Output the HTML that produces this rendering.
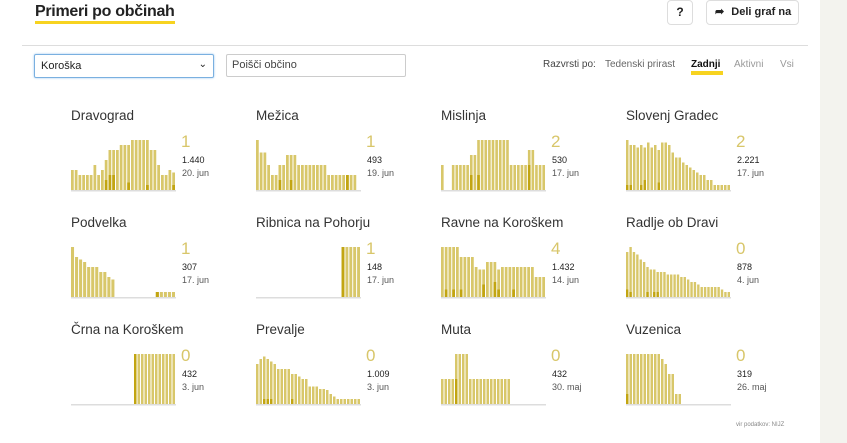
<!DOCTYPE html>
<html><head><meta charset="utf-8"><style>
body{margin:0;width:847px;height:443px;background:#f3f3ee;font-family:"Liberation Sans",sans-serif;overflow:hidden;position:relative}
.panel{position:absolute;left:0;top:0;width:820px;height:443px;background:#fff}
.t{position:absolute;white-space:nowrap}
.btn{position:absolute;border:1px solid #ddd;border-radius:4px;background:#fff;font-size:12px;font-weight:bold;color:#222}
.name{font-size:13.5px;color:#333;position:absolute;white-space:nowrap}
.big{font-size:17px;color:#d8c66a;position:absolute}
.n1{font-size:9px;color:#222;position:absolute}
.n2{font-size:9px;color:#555;position:absolute}
</style></head><body>
<div class="panel"></div>
<div class="t" style="left:35px;top:3px;font-size:16px;font-weight:bold;color:#222;letter-spacing:-0.3px">Primeri po občinah</div>
<div style="position:absolute;left:35px;top:21px;width:140px;height:3px;background:#f7d320"></div>
<div class="btn" style="left:667px;top:0;width:24px;height:23px;text-align:center;line-height:23px">?</div>
<div class="btn" style="left:706px;top:0;width:91px;height:23px;line-height:23px;font-size:11px"><span style="margin-left:8px">➦</span> <span style="margin-left:4px">Deli graf na</span></div>
<div style="position:absolute;left:22px;top:45px;width:786px;height:1px;background:#ddd"></div>
<div style="position:absolute;left:34px;top:54px;width:178px;height:22px;border:1px solid #7ab0e0;box-shadow:0 0 2px #9cc8f0;border-radius:2px;font-size:11px;line-height:22px;color:#222"><span style="margin-left:6px">Koroška</span><span style="position:absolute;right:6px;top:-1px;font-size:10px">&#8964;</span></div>
<div style="position:absolute;left:226px;top:54px;width:178px;height:21px;border:1px solid #ccc;border-radius:2px;font-size:11px;line-height:21px;color:#444"><span style="margin-left:5px">Poišči občino</span></div>
<div class="t" style="left:543px;top:59px;font-size:10px;color:#444">Razvrsti po:</div>
<div class="t" style="left:605px;top:59px;font-size:10px;color:#666">Tedenski prirast</div>
<div class="t" style="left:691px;top:59px;font-size:10px;color:#111;font-weight:bold">Zadnji</div>
<div style="position:absolute;left:691px;top:71px;width:32px;height:4px;background:#f7d320"></div>
<div class="t" style="left:734px;top:59px;font-size:10px;color:#999">Aktivni</div>
<div class="t" style="left:780px;top:59px;font-size:10px;color:#999">Vsi</div>
<div class="t" style="left:736px;top:422px;font-size:6px;color:#888">vir podatkov: NIJZ</div>
<div id="c"></div>
<script>
const D=[
["Dravograd","1","1.440","20. jun",[.4,.4,.3,.3,.3,.3,.5,.3,.4,.6,.8,.8,.8,.9,.9,.9,1,1,1,1,1,.8,.8,.5,.3,.3,.4,.35],{9:.2,10:.3,11:.3,15:.15,20:.1,27:.1}],
["Mežica","1","493","19. jun",[1,.75,.75,.5,.3,.3,.5,.5,.7,.7,.7,.5,.5,.5,.5,.5,.5,.5,.5,.3,.3,.3,.3,.3,.3,.3,.3,0],{6:.2,9:.2,24:.3}],
["Mislinja","2","530","17. jun",[.5,0,0,.5,.5,.5,.5,.5,.7,.7,1,1,1,1,1,1,1,1,1,.5,.5,.5,.5,.5,.8,.8,.5,.5,.5],{8:.3,10:.3,24:.5}],
["Slovenj Gradec","2","2.221","17. jun",[1,.9,.9,.85,.9,.85,.95,.85,.9,.8,.95,.95,.9,.75,.65,.65,.55,.5,.45,.4,.35,.3,.3,.2,.2,.1,.1,.1,.1,.1],{0:.1,1:.1,4:.1,5:.2,9:.15}],
["Podvelka","1","307","17. jun",[1,.8,.75,.7,.6,.6,.6,.5,.5,.4,.35,0,0,0,0,0,0,0,0,0,0,.1,.1,.1,.1,.1],{21:.1}],
["Ribnica na Pohorju","1","148","17. jun",[0,0,0,0,0,0,0,0,0,0,0,0,0,0,0,0,0,0,0,0,0,0,1,1,1,1,1],{22:1}],
["Ravne na Koroškem","4","1.432","14. jun",[1,1,1,1,1,.8,.8,.8,.8,.6,.55,.55,.7,.7,.7,.55,.6,.6,.6,.6,.6,.6,.6,.6,.6,.4,.4,.4],{1:.15,3:.15,5:.15,11:.25,14:.3,15:.15,19:.15}],
["Radlje ob Dravi","0","878","4. jun",[.9,1,.9,.85,.75,.7,.6,.55,.55,.5,.5,.5,.45,.45,.45,.45,.4,.4,.35,.3,.3,.25,.2,.2,.2,.2,.2,.2,.15,.1,.1],{0:.15,1:.1,6:.1,8:.1,9:.1}],
["Črna na Koroškem","0","432","3. jun",[0,0,0,0,0,0,0,0,0,0,0,0,0,0,0,0,0,0,1,1,1,1,1,1,1,1,1,1,1,1],{18:1}],
["Prevalje","0","1.009","3. jun",[.8,.9,.95,.9,.85,.8,.7,.7,.7,.7,.6,.6,.55,.5,.5,.35,.35,.35,.3,.3,.28,.2,.15,.1,.1,.1,.1,.1,.1,.1],{2:.1,3:.1,4:.1,10:.1}],
["Muta","0","432","30. maj",[.5,.5,.5,.5,1,1,1,1,.5,.5,.5,.5,.5,.5,.5,.5,.5,.5,.5,.5,0,0,0,0,0,0,0,0,0,0],{4:.5}],
["Vuzenica","0","319","26. maj",[1,1,1,1,1,1,1,1,1,1,.9,.8,.6,.6,.2,.2,0,0,0,0,0,0,0,0,0,0,0,0,0,0],{0:.2}]
];
const cols=[71,256,441,626],rows=[107,214,321];let h='';
D.forEach((d,i)=>{const x=cols[i%4],y=rows[Math.floor(i/4)];
h+=`<div class="name" style="left:${x}px;top:${y+1}px">${d[0]}</div>`;
h+=`<div class="big" style="left:${x+110}px;top:${y+25}px">${d[1]}</div>`;
h+=`<div class="n1" style="left:${x+111}px;top:${y+48}px">${d[2]}</div>`;
h+=`<div class="n2" style="left:${x+111}px;top:${y+61}px">${d[3]}</div>`;
const W=105,H=50,n=d[4].length,bw=W/n;let s=`<svg style="position:absolute;left:${x}px;top:${y+33}px" width="${W}" height="52">`;
d[4].forEach((v,j)=>{if(v>0)s+=`<rect x="${(j*bw).toFixed(2)}" y="${(H-v*H).toFixed(1)}" width="${(bw-1).toFixed(2)}" height="${(v*H).toFixed(1)}" fill="#d8c76a"/>`;
const k=d[5][j];if(k)s+=`<rect x="${(j*bw).toFixed(2)}" y="${(H-k*H).toFixed(1)}" width="${(bw-1).toFixed(2)}" height="${(k*H).toFixed(1)}" fill="#c2a512"/>`;});
s+=`<rect x="0" y="${H}" width="${W}" height="1.5" fill="#ddd"/></svg>`;h+=s;});
document.getElementById('c').innerHTML=h;
</script>
</body></html>
